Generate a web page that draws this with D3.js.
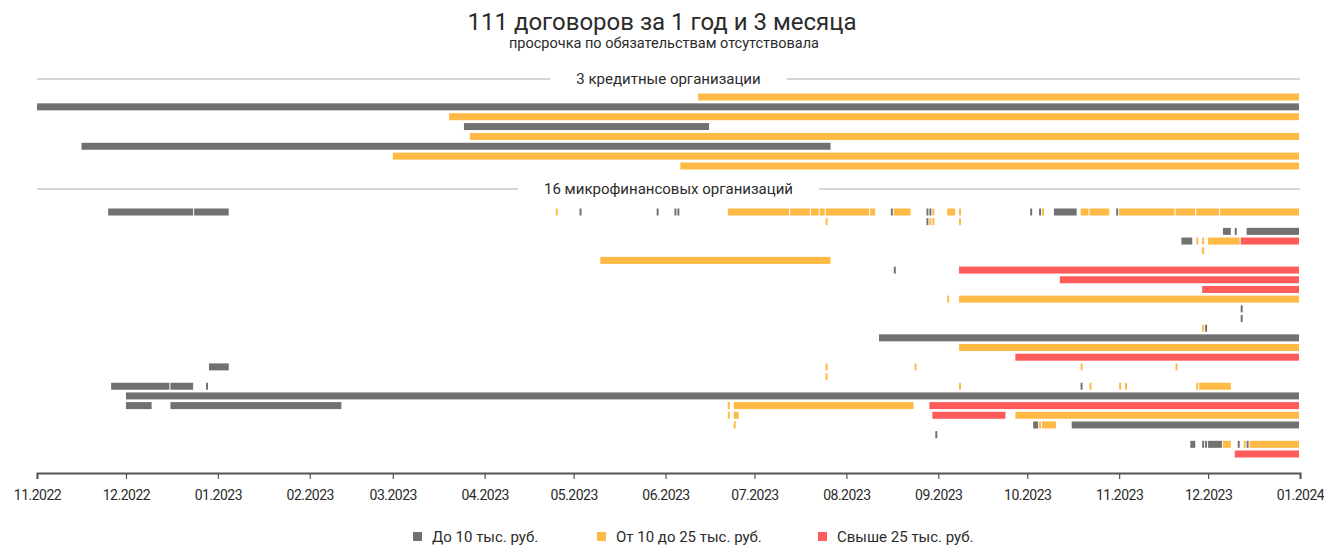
<!DOCTYPE html>
<html>
<head>
<meta charset="utf-8">
<script src="https://cdn.jsdelivr.net/npm/d3@7"></script>
<style>
  body { margin: 0; background: #fff; }
  text { font-family: Roboto, sans-serif; fill: #2b2b2b; }
</style>
</head>
<body>
<svg id="chart" width="1324" height="546"></svg>
<script>
// ---- data ----
const title = "111 договоров за 1 год и 3 месяца";
const subtitle = "просрочка по обязательствам отсутствовала";
const sections = ["3 кредитные организации", "16 микрофинансовых организаций"];
const categories = ["До 10 тыс. руб.", "От 10 до 25 тыс. руб.", "Свыше 25 тыс. руб."];
const colors = ["#717171", "#ffba45", "#ff5b5b"];
const tickMonths = ["2022-11", "2022-12", "2023-01", "2023-02", "2023-03", "2023-04", "2023-05",
  "2023-06", "2023-07", "2023-08", "2023-09", "2023-10", "2023-11", "2023-12", "2024-01"];

// [row, first day, last day, category]
const bankContracts = [
  [0, "2023-06-12", "2023-12-31", 1],
  [1, "2022-11-01", "2023-12-31", 0],
  [2, "2023-03-20", "2023-12-31", 1],
  [3, "2023-03-25", "2023-06-15", 0],
  [4, "2023-03-27", "2023-12-31", 1],
  [5, "2022-11-16", "2023-07-26", 0],
  [6, "2023-03-01", "2023-12-31", 1],
  [7, "2023-06-06", "2023-12-31", 1]
];

const mfoContracts = [
  [0, "2022-11-25", "2022-12-23", 0], [0, "2022-12-24", "2023-01-04", 0],
  [0, "2023-04-25", "2023-04-25", 1], [0, "2023-05-03", "2023-05-03", 0],
  [0, "2023-05-29", "2023-05-29", 0], [0, "2023-06-04", "2023-06-04", 0],
  [0, "2023-06-05", "2023-06-05", 0], [0, "2023-06-22", "2023-07-12", 1],
  [0, "2023-07-13", "2023-07-19", 1], [0, "2023-07-20", "2023-07-22", 1],
  [0, "2023-07-23", "2023-07-24", 1], [0, "2023-07-25", "2023-08-08", 1],
  [0, "2023-08-09", "2023-08-10", 1], [0, "2023-08-16", "2023-08-16", 0],
  [0, "2023-08-17", "2023-08-22", 1], [0, "2023-08-28", "2023-08-28", 0],
  [0, "2023-08-29", "2023-08-29", 0], [0, "2023-08-30", "2023-08-30", 1],
  [0, "2023-09-04", "2023-09-06", 1], [0, "2023-09-08", "2023-09-08", 1],
  [0, "2023-10-02", "2023-10-02", 0], [0, "2023-10-05", "2023-10-05", 0],
  [0, "2023-10-06", "2023-10-06", 1], [0, "2023-10-10", "2023-10-17", 0],
  [0, "2023-10-19", "2023-10-21", 1], [0, "2023-10-22", "2023-10-28", 1],
  [0, "2023-10-31", "2023-10-31", 0], [0, "2023-11-01", "2023-11-19", 1],
  [0, "2023-11-20", "2023-11-26", 1], [0, "2023-11-27", "2023-12-04", 1],
  [0, "2023-12-05", "2023-12-31", 1],
  [1, "2023-07-25", "2023-07-25", 1], [1, "2023-08-28", "2023-08-28", 0],
  [1, "2023-08-29", "2023-08-29", 1], [1, "2023-08-30", "2023-08-30", 1],
  [1, "2023-09-08", "2023-09-08", 1],
  [2, "2023-12-06", "2023-12-08", 0], [2, "2023-12-10", "2023-12-10", 0],
  [2, "2023-12-14", "2023-12-31", 0],
  [3, "2023-11-22", "2023-11-25", 0], [3, "2023-11-27", "2023-11-27", 1],
  [3, "2023-11-29", "2023-11-29", 1], [3, "2023-12-01", "2023-12-11", 1],
  [3, "2023-12-12", "2023-12-31", 2],
  [4, "2023-11-29", "2023-11-29", 1],
  [5, "2023-05-10", "2023-07-26", 1],
  [6, "2023-08-17", "2023-08-17", 0], [6, "2023-09-08", "2023-12-31", 2],
  [7, "2023-10-12", "2023-12-31", 2],
  [8, "2023-11-29", "2023-12-31", 2],
  [9, "2023-09-04", "2023-09-04", 1], [9, "2023-09-08", "2023-12-31", 1],
  [10, "2023-12-12", "2023-12-12", 0],
  [11, "2023-12-12", "2023-12-12", 0],
  [12, "2023-11-29", "2023-11-29", 1], [12, "2023-11-30", "2023-11-30", 0],
  [13, "2023-08-12", "2023-12-31", 0],
  [14, "2023-09-08", "2023-12-31", 1],
  [15, "2023-09-27", "2023-12-31", 2],
  [16, "2022-12-29", "2023-01-04", 0], [16, "2023-07-25", "2023-07-25", 1],
  [16, "2023-08-24", "2023-08-24", 1], [16, "2023-10-19", "2023-10-19", 1],
  [16, "2023-11-20", "2023-11-20", 1],
  [17, "2023-07-25", "2023-07-25", 1],
  [18, "2022-11-26", "2022-12-15", 0], [18, "2022-12-16", "2022-12-23", 0],
  [18, "2022-12-28", "2022-12-28", 0], [18, "2023-09-08", "2023-09-08", 1],
  [18, "2023-10-19", "2023-10-19", 0], [18, "2023-10-22", "2023-10-22", 1],
  [18, "2023-11-01", "2023-11-01", 1], [18, "2023-11-03", "2023-11-03", 1],
  [18, "2023-11-27", "2023-11-27", 1], [18, "2023-11-28", "2023-12-08", 1],
  [19, "2022-12-01", "2023-12-31", 0],
  [20, "2022-12-01", "2022-12-09", 0], [20, "2022-12-16", "2023-02-11", 0],
  [20, "2023-06-22", "2023-06-22", 1], [20, "2023-06-24", "2023-08-23", 1],
  [20, "2023-08-29", "2023-12-31", 2],
  [21, "2023-06-22", "2023-06-22", 1], [21, "2023-06-24", "2023-06-25", 1],
  [21, "2023-08-30", "2023-09-23", 2], [21, "2023-09-27", "2023-12-31", 1],
  [22, "2023-06-24", "2023-06-24", 1], [22, "2023-10-03", "2023-10-04", 0],
  [22, "2023-10-05", "2023-10-05", 1], [22, "2023-10-06", "2023-10-10", 1],
  [22, "2023-10-16", "2023-12-31", 0],
  [23, "2023-08-31", "2023-08-31", 0],
  [24, "2023-11-25", "2023-11-26", 0], [24, "2023-11-29", "2023-11-29", 0],
  [24, "2023-11-30", "2023-11-30", 0], [24, "2023-12-01", "2023-12-05", 0],
  [24, "2023-12-06", "2023-12-08", 1], [24, "2023-12-11", "2023-12-11", 0],
  [24, "2023-12-13", "2023-12-13", 1], [24, "2023-12-14", "2023-12-14", 0],
  [24, "2023-12-15", "2023-12-31", 1],
  [25, "2023-12-10", "2023-12-31", 2]
];

// ---- layout ----
const svg = d3.select("#chart");
const parse = d3.timeParse("%Y-%m-%d");
const parseMonth = d3.timeParse("%Y-%m");
const left = 37, right = 1300;
const barH = 7;

const x = d3.scaleTime()
  .domain([parseMonth(tickMonths[0]), parseMonth(tickMonths[tickMonths.length - 1])])
  .range([left, right]);

const bankY = d3.scalePoint().domain(d3.range(8)).range([97, 166]);
const mfoY = d3.scalePoint().domain(d3.range(26)).range([212, 454]);

// title
svg.append("text")
  .attr("x", 662).attr("y", 30)
  .attr("text-anchor", "middle")
  .style("font-size", "24px")
  .text(title);

svg.append("text")
  .attr("x", 664).attr("y", 48)
  .attr("text-anchor", "middle")
  .style("font-size", "14.5px")
  .text(subtitle);

// section headers with side rules
function sectionHeader(label, y) {
  const cx = (left + right) / 2;
  const t = svg.append("text")
    .attr("x", cx).attr("y", y + 5)
    .attr("text-anchor", "middle")
    .style("font-size", "15px")
    .text(label);
  const half = t.node().getComputedTextLength() / 2;
  svg.append("line")
    .attr("x1", left).attr("x2", cx - half - 26)
    .attr("y1", y).attr("y2", y)
    .attr("stroke", "#c9c9c9").attr("stroke-width", 1.5);
  svg.append("line")
    .attr("x1", cx + half + 26).attr("x2", right)
    .attr("y1", y).attr("y2", y)
    .attr("stroke", "#c9c9c9").attr("stroke-width", 1.5);
}
sectionHeader(sections[0], 79);
sectionHeader(sections[1], 189);

// contract bars
function drawBars(data, yScale) {
  svg.append("g")
    .selectAll("rect")
    .data(data)
    .join("rect")
      .attr("x", d => x(parse(d[1])))
      .attr("y", d => yScale(d[0]) - barH / 2)
      .attr("width", d => Math.max(1.4, x(d3.timeDay.offset(parse(d[2]), 1)) - x(parse(d[1])) - 1))
      .attr("height", barH)
      .attr("fill", d => colors[d[3]]);
}
drawBars(bankContracts, bankY);
drawBars(mfoContracts, mfoY);

// time axis
const axis = svg.append("g")
  .attr("transform", "translate(0,473)")
  .call(d3.axisBottom(x)
    .tickValues(tickMonths.map(parseMonth))
    .tickFormat(d3.timeFormat("%m.%Y"))
    .tickSize(6)
    .tickPadding(11));
axis.select(".domain").attr("stroke", "#555").attr("stroke-width", 2);
axis.selectAll(".tick line").attr("stroke", "#555").attr("stroke-width", 1.2);
axis.selectAll(".tick text")
  .style("font-size", "14px")
  .style("letter-spacing", "-0.5px")
  .style("font-family", "Roboto, sans-serif")
  .attr("fill", "#2b2b2b");

// legend
const legendX = [413, 597, 818];
const legend = svg.append("g")
  .selectAll("g")
  .data(categories)
  .join("g")
    .attr("transform", (d, i) => `translate(${legendX[i]},537)`);
legend.append("rect")
  .attr("x", 0).attr("y", -5)
  .attr("width", 9).attr("height", 9)
  .attr("fill", (d, i) => colors[i]);
legend.append("text")
  .attr("x", 19).attr("y", 5)
  .style("font-size", "15px")
  .text(d => d);
</script>
</body>
</html>
